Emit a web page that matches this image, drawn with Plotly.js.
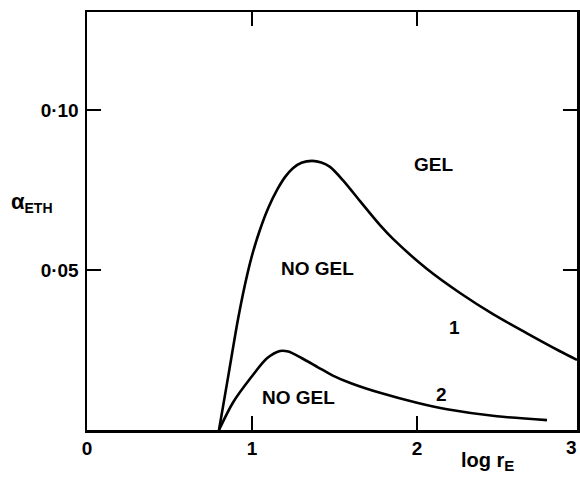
<!DOCTYPE html>
<html>
<head>
<meta charset="utf-8">
<script src="https://cdn.plot.ly/plotly-3.0.1.min.js"></script>
<style>html,body{margin:0;padding:0;background:#fff;}#chart{width:580px;height:479px;}</style>
</head>
<body>
<div id="chart"></div>
<script>
// Curve 1 (upper boundary)
const curve1X = [0.80, 0.86, 0.915, 0.96, 1.0, 1.048, 1.10, 1.152, 1.20, 1.248, 1.30, 1.364, 1.42, 1.473, 1.552, 1.655, 1.776, 1.855, 2.061, 2.261, 2.461, 2.667, 2.867, 2.97];
const curve1Y = [0.0, 0.018, 0.0345, 0.046, 0.0545, 0.0625, 0.0695, 0.0750, 0.0790, 0.0818, 0.0835, 0.0841, 0.0836, 0.0822, 0.0780, 0.0715, 0.0640, 0.0597, 0.0503, 0.0428, 0.0362, 0.0302, 0.0246, 0.0219];
// Curve 2 (lower boundary)
const curve2X = [0.80, 0.885, 0.988, 1.091, 1.170, 1.22, 1.30, 1.40, 1.49, 1.60, 1.776, 2.0, 2.182, 2.485, 2.788];
const curve2Y = [0.0, 0.0086, 0.0160, 0.0224, 0.0247, 0.0245, 0.0225, 0.0196, 0.0170, 0.0146, 0.0116, 0.0085, 0.0065, 0.0043, 0.0031];
// Ticks
const xTickVals = [0, 1, 2];
const xTickText = ["0", "1", "2"];
const xEndTickText = "3";
const yTickVals = [0.05, 0.10];
const yTickText = ["0·05", "0·10"];
// Region labels
const labelText = ["GEL", "NO GEL", "1", "NO GEL", "2"];
const labelX = [2.10, 1.40, 2.23, 1.28, 2.15];
const labelY = [0.0828, 0.0504, 0.0319, 0.0100, 0.0111];

const lineStyle = {color: '#000', width: 2.6, shape: 'spline', smoothing: 0.8};
const traces = [
  {x: curve1X, y: curve1Y, mode: 'lines', line: lineStyle, hoverinfo: 'skip'},
  {x: curve2X, y: curve2Y, mode: 'lines', line: lineStyle, hoverinfo: 'skip'}
];
const font = {family: 'Liberation Sans, Arial, sans-serif', color: '#000'};
const annotations = labelText.map((t, i) => ({
  x: labelX[i], y: labelY[i], xref: 'x', yref: 'y', text: t, showarrow: false,
  font: Object.assign({}, font, {size: 19, weight: 'bold'})
}));
annotations.push({
  xref: 'paper', yref: 'paper', x: -0.112, y: 0.545, xanchor: 'center', yanchor: 'middle',
  text: '<span style="font-size:22px">α</span><sub><span style="font-size:14px">ETH</span></sub>',
  showarrow: false, font: Object.assign({}, font, {size: 19, weight: 'bold'})
});
annotations.push({
  xref: 'paper', yref: 'paper', x: 0.817, y: -0.075, xanchor: 'center', yanchor: 'middle',
  text: 'log r<sub><span style="font-size:15px">E</span></sub>', showarrow: false,
  font: Object.assign({}, font, {size: 20, weight: 'bold'})
});
annotations.push({
  xref: 'paper', yref: 'paper', x: 1.0, y: -0.043, xanchor: 'right', yanchor: 'middle', xshift: 2,
  text: xEndTickText, showarrow: false, font: Object.assign({}, font, {size: 19, weight: 'bold'})
});
const layout = {
  width: 580, height: 479,
  margin: {l: 87, r: 3, t: 12, b: 49},
  paper_bgcolor: '#fff', plot_bgcolor: '#fff',
  showlegend: false,
  xaxis: {
    range: [0, 2.97], tickvals: xTickVals, ticktext: xTickText,
    ticks: 'inside', ticklen: 14, tickwidth: 2, tickcolor: '#000',
    showline: true, linecolor: '#000', linewidth: 2.5, mirror: 'ticks',
    showgrid: false, zeroline: false,
    tickfont: Object.assign({}, font, {size: 19, weight: 'bold'})
  },
  yaxis: {
    range: [0, 0.1306], tickvals: yTickVals, ticktext: yTickText,
    ticks: 'inside', ticklen: 14, tickwidth: 2, tickcolor: '#000',
    showline: true, linecolor: '#000', linewidth: 2.5, mirror: 'ticks',
    showgrid: false, zeroline: false, ticklabelstandoff: 2,
    tickfont: Object.assign({}, font, {size: 19, weight: 'bold'})
  },
  annotations: annotations
};
Plotly.newPlot('chart', traces, layout, {staticPlot: true, displayModeBar: false});
</script>
</body>
</html>
